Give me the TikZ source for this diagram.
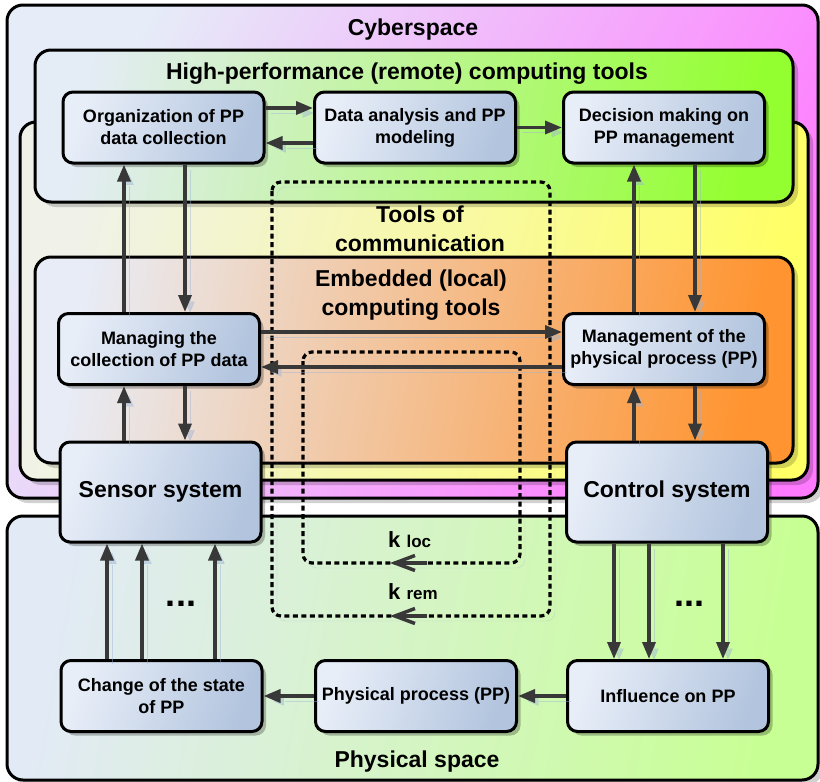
\documentclass[tikz,border=0pt]{standalone}
\usepackage{fontspec}
\setmainfont{Liberation Sans}
\usetikzlibrary{arrows.meta,shadows}

\definecolor{cyberL}{HTML}{E6ECF8}
\definecolor{cyberR}{HTML}{FF7AFF}
\definecolor{toolL}{HTML}{F0F2EA}
\definecolor{toolR}{HTML}{FFFF66}
\definecolor{hpcL}{HTML}{E4ECF6}
\definecolor{hpcR}{HTML}{94FF30}
\definecolor{embL}{HTML}{E8ECF6}
\definecolor{embR}{HTML}{FF9430}
\definecolor{physL}{HTML}{E2EAF6}
\definecolor{physR}{HTML}{C8FF94}
\definecolor{nodeL}{HTML}{E8EEF8}
\definecolor{nodeR}{HTML}{B2C4DE}
\definecolor{arrgray}{HTML}{383838}
\definecolor{shadeblue}{HTML}{9DB4D6}

\tikzset{
  block/.style={draw=black, line width=3pt, rounded corners=10pt,
    left color=nodeL, right color=nodeR, shading angle=70,
    minimum width=201pt, minimum height=71pt, inner sep=3pt, align=center,
    font=\fontsize{18}{22}\selectfont\bfseries,
    drop shadow={shadow xshift=4pt, shadow yshift=-4pt, opacity=0.25, fill=black}},
  bigblock/.style={block, minimum height=100pt, font=\fontsize{23}{28}\selectfont\bfseries},
  area/.style={draw=black, line width=3pt, rounded corners=16pt,
    drop shadow={shadow xshift=5pt, shadow yshift=-5pt, opacity=0.18, fill=black}},
  title/.style={font=\fontsize{23}{29}\selectfont\bfseries, align=center, inner sep=0pt},
  arr/.style={-{Triangle[length=17pt,width=13pt]}, line width=3.5pt, draw=arrgray,
    preaction={draw=shadeblue, opacity=0.45, transform canvas={xshift=5pt,yshift=-5pt}}},
  kbox/.style={line width=3.2pt, dash pattern=on 5pt off 3.5pt, rounded corners=9pt,
    preaction={draw=shadeblue, opacity=0.4, transform canvas={xshift=5pt,yshift=-5pt}}},
  karr/.style={-{Straight Barb[length=20pt,width=15pt]}, line width=3.5pt, draw=arrgray},
  dots/.style={font=\fontsize{36}{36}\selectfont\bfseries, inner sep=0pt}
}

\begin{document}
\begin{tikzpicture}[x=1pt,y=-1pt]
    \useasboundingbox (0,0) rectangle (820,782);
    % spaces
    \draw[area, left color=cyberL, right color=cyberR, shading angle=60] (7,5) rectangle (818,498);
    \draw[area, left color=toolL, right color=toolR, shading angle=75] (20,122) rectangle (808,480);
    \draw[area, left color=hpcL, right color=hpcR, shading angle=80] (35,50) rectangle (793,202);
    \draw[area, left color=embL, right color=embR, shading angle=80] (35,257) rectangle (793,463);
    \draw[area, left color=physL, right color=physR, shading angle=80] (7,516) rectangle (818,780);
    % titles
    \node[title, anchor=base] (tCyber) at (413,35) {Cyberspace};
    \node[title, anchor=base] (tHpc) at (407,79) {High-performance (remote) computing tools};
    \node[title] (tTools) at (420,229) {Tools of\\communication};
    \node[title] (tEmb) at (411,295) {Embedded (local)\\computing tools};
    \node[title, anchor=base] (tPhys) at (417,767) {Physical space};
    % communication loops
    \draw[kbox] (272,182) rectangle (550,616);
    \draw[kbox] (303,352) rectangle (520,563);
    \coordinate (kremA) at (427,616);
    \coordinate (kremB) at (390,616);
    \coordinate (klocA) at (427,563);
    \coordinate (klocB) at (390,563);
    \draw[karr] (kremA) -- (kremB);
    \draw[karr] (klocA) -- (klocB);
    \node[anchor=base west, inner sep=0pt, font=\bfseries] (kloc) at (388,547)
        {\fontsize{22}{22}\selectfont k \fontsize{17}{17}\selectfont loc};
    \node[anchor=base west, inner sep=0pt, font=\bfseries] (krem) at (388,599)
        {\fontsize{22}{22}\selectfont k \fontsize{17}{17}\selectfont rem};
    % blocks
    \node[block] (org) at (163.5,127.5) {Organization of PP\\data collection};
    \node[block] (data) at (415,127.5) {Data analysis and PP\\modeling};
    \node[block] (dec) at (664,127.5) {Decision making on\\PP management};
    \node[block] (mgd) at (159,349) {Managing the\\collection of PP data};
    \node[block] (mpp) at (664,349) {Management of the\\physical process (PP)};
    \node[bigblock] (sens) at (160.5,492) {Sensor system};
    \node[bigblock] (ctrl) at (667,492) {Control system};
    \node[block] (chg) at (161.5,696) {Change of the state\\of PP};
    \node[block] (phys) at (416,696) {Physical process (PP)};
    \node[block] (infl) at (668,696) {Influence on PP};
    \node[dots] (dotsL) at (181,604) {...};
    \node[dots] (dotsR) at (689,604) {...};
    % columns
    \coordinate (cL1) at (124,0);
    \coordinate (cL2) at (185,0);
    \coordinate (cR1) at (634,0);
    \coordinate (cR2) at (695,0);
    \coordinate (s1) at (107,0);
    \coordinate (s2) at (142,0);
    \coordinate (s3) at (215,0);
    \coordinate (u1) at (614,0);
    \coordinate (u2) at (649,0);
    \coordinate (u3) at (723,0);
    % arrows
    \draw[arr] ([yshift=19.5pt]org.east) -- ([yshift=19.5pt]data.west);
    \draw[arr] ([yshift=-15.5pt]data.west) -- ([yshift=-15.5pt]org.east);
    \draw[arr] (data) -- (dec);
    \draw[arr] (mgd.north -| cL1) -- (org.south -| cL1);
    \draw[arr] (org.south -| cL2) -- (mgd.north -| cL2);
    \draw[arr] (sens.north -| cL1) -- (mgd.south -| cL1);
    \draw[arr] (mgd.south -| cL2) -- (sens.north -| cL2);
    \draw[arr] (mpp.north -| cR1) -- (dec.south -| cR1);
    \draw[arr] (dec.south -| cR2) -- (mpp.north -| cR2);
    \draw[arr] (ctrl.north -| cR1) -- (mpp.south -| cR1);
    \draw[arr] (mpp.south -| cR2) -- (ctrl.north -| cR2);
    \draw[arr] ([yshift=17pt]mgd.east) -- ([yshift=17pt]mgd.east -| mpp.west);
    \draw[arr] ([yshift=-18pt]mpp.west) -- ([yshift=-18pt]mpp.west -| mgd.east);
    \draw[arr] (chg.north -| s1) -- (sens.south -| s1);
    \draw[arr] (chg.north -| s2) -- (sens.south -| s2);
    \draw[arr] (chg.north -| s3) -- (sens.south -| s3);
    \draw[arr] (ctrl.south -| u1) -- (infl.north -| u1);
    \draw[arr] (ctrl.south -| u2) -- (infl.north -| u2);
    \draw[arr] (ctrl.south -| u3) -- (infl.north -| u3);
    \draw[arr] (phys) -- (chg);
    \draw[arr] (infl) -- (phys);
\end{tikzpicture}
\end{document}
